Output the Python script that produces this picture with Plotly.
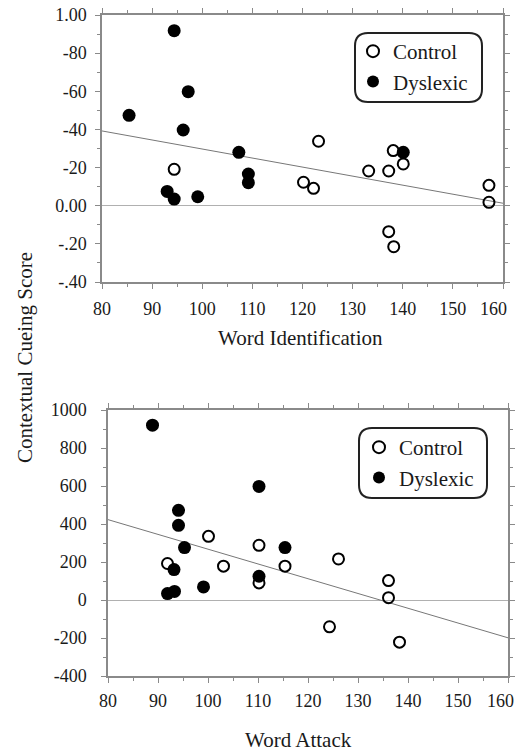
import plotly.graph_objects as go

# ---- Top panel: Word Identification ----
wi_dys_x = [94.4, 97.2, 85.4, 96.2, 107.3, 109.2, 109.2, 93.0, 94.4, 99.1, 140.1]
wi_dys_y = [0.918, 0.598, 0.474, 0.397, 0.280, 0.166, 0.121, 0.075, 0.035, 0.047, 0.280]
wi_con_x = [94.4, 123.2, 120.2, 122.2, 133.2, 137.2, 138.1, 140.1, 137.2, 138.2, 157.2, 157.2]
wi_con_y = [0.191, 0.338, 0.123, 0.091, 0.182, 0.182, 0.289, 0.219, -0.136, -0.215, 0.107, 0.018]
wi_trend_x = [80, 160]
wi_trend_y = [0.392, 0.013]
wi_tickvals = [1.0, 0.8, 0.6, 0.4, 0.2, 0.0, -0.2, -0.4]
wi_ticktext = ["1.00", "-80", "-60", "-40", "-20", "0.00", "-.20", "-.40"]

# ---- Bottom panel: Word Attack ----
wa_dys_x = [88.9, 110.2, 94.1, 94.1, 95.3, 115.4, 93.2, 110.2, 99.1, 91.9, 93.3]
wa_dys_y = [920, 598, 472, 393, 276, 276, 160, 125, 69, 34, 45]
wa_con_x = [91.9, 100.1, 103.1, 110.2, 110.2, 115.4, 126.1, 136.1, 136.1, 124.3, 138.3]
wa_con_y = [192, 335, 178, 288, 90, 178, 216, 102, 12, -141, -222]
wa_trend_x = [80, 160]
wa_trend_y = [423, -199]
wa_tickvals = [1000, 800, 600, 400, 200, 0, -200, -400]
wa_ticktext = ["1000", "800", "600", "400", "200", "0", "-200", "-400"]

x_ticks = [80, 90, 100, 110, 120, 130, 140, 150, 160]
x_ticktext = ["80", "90", "100", "110", "120", "130", "140", "150", ""]
x_last_label = "160"

W, H = 516, 752
FONT = "Liberation Serif"
FRAME = "#8a8a8a"
TXT = "#1a1a1a"

def px_x(p):
    return p / W

def px_y(p):
    return 1 - p / H

fig = go.Figure()

open_marker = dict(symbol="circle-open", size=11, color="black", line=dict(width=2, color="black"))
fill_marker = dict(symbol="circle", size=13, color="black")

# top
fig.add_trace(go.Scatter(x=wi_trend_x, y=wi_trend_y, mode="lines", line=dict(color="#777777", width=1),
                         showlegend=False, xaxis="x", yaxis="y", hoverinfo="skip"))
fig.add_trace(go.Scatter(x=wi_con_x, y=wi_con_y, mode="markers", marker=open_marker, name="Control",
                         xaxis="x", yaxis="y", legend="legend"))
fig.add_trace(go.Scatter(x=wi_dys_x, y=wi_dys_y, mode="markers", marker=fill_marker, name="Dyslexic",
                         xaxis="x", yaxis="y", legend="legend"))
# bottom
fig.add_trace(go.Scatter(x=wa_trend_x, y=wa_trend_y, mode="lines", line=dict(color="#777777", width=1),
                         showlegend=False, xaxis="x2", yaxis="y2", hoverinfo="skip"))
fig.add_trace(go.Scatter(x=wa_con_x, y=wa_con_y, mode="markers", marker=open_marker, name="Control",
                         xaxis="x2", yaxis="y2", legend="legend2"))
fig.add_trace(go.Scatter(x=wa_dys_x, y=wa_dys_y, mode="markers", marker=fill_marker, name="Dyslexic",
                         xaxis="x2", yaxis="y2", legend="legend2"))

axis_common = dict(showline=True, linecolor=FRAME, linewidth=1.5, mirror="ticks", ticks="outside",
                   ticklen=5, tickcolor=FRAME, tickwidth=1, showgrid=False, automargin=False,
                   ticklabeloverflow="allow",
                   tickfont=dict(family=FONT, size=18, color=TXT))

fig.update_layout(
    width=W, height=H, margin=dict(l=0, r=0, t=0, b=0, autoexpand=False),
    paper_bgcolor="white", plot_bgcolor="white",
    font=dict(family=FONT, color=TXT),
    xaxis=dict(domain=[px_x(102), px_x(503)], range=[80, 160], tickvals=x_ticks, ticktext=x_ticktext,
               anchor="y", minor=dict(dtick=5, ticklen=3, ticks="outside", tickcolor=FRAME), zeroline=False,
               ticklabelstandoff=5, **axis_common),
    yaxis=dict(domain=[px_y(282), px_y(15)], range=[-0.4, 1.0], tickvals=wi_tickvals, ticktext=wi_ticktext,
               anchor="x", minor=dict(dtick=0.1, ticklen=3, ticks="outside", tickcolor=FRAME),
               zeroline=True, zerolinecolor="#b0b0b0", zerolinewidth=1, ticklabelstandoff=5, **axis_common),
    xaxis2=dict(domain=[px_x(108), px_x(508)], range=[80, 160], tickvals=x_ticks, ticktext=x_ticktext,
                anchor="y2", minor=dict(dtick=5, ticklen=3, ticks="outside", tickcolor=FRAME), zeroline=False,
                ticklabelstandoff=3, **axis_common),
    yaxis2=dict(domain=[px_y(676), px_y(410)], range=[-400, 1000], tickvals=wa_tickvals, ticktext=wa_ticktext,
                anchor="x2", minor=dict(dtick=100, ticklen=3, ticks="outside", tickcolor=FRAME),
                zeroline=True, zerolinecolor="#b0b0b0", zerolinewidth=1, ticklabelstandoff=11, **axis_common),
    legend=dict(x=px_x(353), y=px_y(31), xanchor="left", yanchor="top", bgcolor="rgba(0,0,0,0)",
                borderwidth=0, font=dict(family=FONT, size=21, color=TXT), itemsizing="constant",
                tracegroupgap=0),
    legend2=dict(x=px_x(359), y=px_y(427), xanchor="left", yanchor="top", bgcolor="rgba(0,0,0,0)",
                 borderwidth=0, font=dict(family=FONT, size=21, color=TXT), itemsizing="constant",
                 tracegroupgap=0),
)

def rounded_rect(x0, y0, x1, y1, r):
    def P(x, y):
        return f"{px_x(x)},{px_y(y)}"
    return (f"M {P(x0 + r, y0)} L {P(x1 - r, y0)} Q {P(x1, y0)} {P(x1, y0 + r)} "
            f"L {P(x1, y1 - r)} Q {P(x1, y1)} {P(x1 - r, y1)} L {P(x0 + r, y1)} "
            f"Q {P(x0, y1)} {P(x0, y1 - r)} L {P(x0, y0 + r)} Q {P(x0, y0)} {P(x0 + r, y0)} Z")

fig.add_shape(type="path", xref="paper", yref="paper", path=rounded_rect(355, 33, 482, 102, 13),
              line=dict(color="#222", width=2))
fig.add_shape(type="path", xref="paper", yref="paper", path=rounded_rect(359, 428, 487, 498, 13),
              line=dict(color="#222", width=2))

# last x tick label (sits slightly left of its tick, as in the original)
fig.add_annotation(text=x_last_label, xref="x", yref="paper", x=x_ticks[-1], y=px_y(309), xshift=-10,
                   showarrow=False, font=dict(family=FONT, size=18, color=TXT), xanchor="center", yanchor="middle")
fig.add_annotation(text=x_last_label, xref="x2", yref="paper", x=x_ticks[-1], y=px_y(701), xshift=-8,
                   showarrow=False, font=dict(family=FONT, size=18, color=TXT), xanchor="center", yanchor="middle")

fig.add_annotation(text="Word Identification", xref="paper", yref="paper", x=px_x(300), y=px_y(338),
                   showarrow=False, font=dict(family=FONT, size=21, color=TXT), xanchor="center", yanchor="middle")
fig.add_annotation(text="Word Attack", xref="paper", yref="paper", x=px_x(298), y=px_y(740),
                   showarrow=False, font=dict(family=FONT, size=21, color=TXT), xanchor="center", yanchor="middle")
fig.add_annotation(text="Contextual Cueing Score", xref="paper", yref="paper", x=px_x(25), y=px_y(358),
                   showarrow=False, textangle=-90, font=dict(family=FONT, size=21, color=TXT),
                   xanchor="center", yanchor="middle")

fig.write_html("out.html", config={"displayModeBar": False},
               post_script="document.body.style.margin='0';document.body.style.overflow='hidden';")
